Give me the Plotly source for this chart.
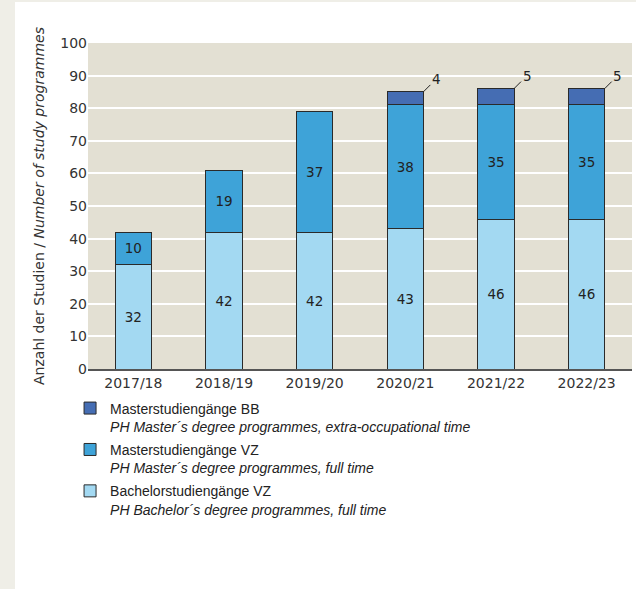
import plotly.graph_objects as go

years = ["2017/18", "2018/19", "2019/20", "2020/21", "2021/22", "2022/23"]
bachelor_vz = [32, 42, 42, 43, 46, 46]
master_vz = [10, 19, 37, 38, 35, 35]
master_bb = [0, 0, 0, 4, 5, 5]

names = [
    "Bachelorstudiengänge VZ<br><i>PH Bachelor´s degree programmes, full time</i>",
    "Masterstudiengänge VZ<br><i>PH Master´s degree programmes, full time</i>",
    "Masterstudiengänge BB<br><i>PH Master´s degree programmes, extra-occupational time</i>",
]
colors = ["#a3d9f2", "#3ea3d8", "#456db3"]

label_font = dict(family="DejaVu Sans", size=13.5, color="#222")

fig = go.Figure()
fig.add_trace(go.Bar(
    x=years, y=bachelor_vz, name=names[0], legendgroup="g1", legendrank=3,
    marker=dict(color=colors[0], line=dict(color="#2a2a2a", width=1)),
    text=[str(v) for v in bachelor_vz], textposition="inside",
    insidetextanchor="middle", textangle=0, textfont=label_font,
    width=0.4,
))
fig.add_trace(go.Bar(
    x=years, y=master_vz, name=names[1], legendgroup="g2", legendrank=2,
    marker=dict(color=colors[1], line=dict(color="#2a2a2a", width=1)),
    text=[str(v) for v in master_vz], textposition="inside",
    insidetextanchor="middle", textangle=0, textfont=label_font,
    width=0.4,
))
fig.add_trace(go.Bar(
    x=years, y=[v if v else None for v in master_bb], name=names[2],
    legendgroup="g3", legendrank=1,
    marker=dict(color=colors[2], line=dict(color="#2a2a2a", width=1)),
    width=0.4, textposition="none",
))

annotations = []
for yr, b, m, bb in zip(years, bachelor_vz, master_vz, master_bb):
    if bb:
        annotations.append(dict(
            x=yr, y=b + m + bb, xref="x", yref="y",
            text=str(bb), showarrow=True, arrowhead=0, arrowwidth=1,
            arrowcolor="#222", ax=13, ay=-13, xshift=18, standoff=0,
            font=label_font,
        ))

fig.update_layout(
    width=636, height=589,
    margin=dict(l=88, r=4, t=43, b=220),
    paper_bgcolor="white",
    plot_bgcolor="#e3e0d3",
    barmode="stack",
    bargap=0.6,
    showlegend=True,
    legend=dict(
        x=-0.033, y=-0.072, xanchor="left", yanchor="top",
        traceorder="grouped", valign="top",
        font=dict(family="Liberation Sans, Arial, sans-serif", size=14, color="#222"),
        bgcolor="rgba(0,0,0,0)",
        tracegroupgap=2,
    ),
    annotations=annotations,
    shapes=[
        dict(type="rect", xref="paper", yref="paper",
             x0=-88/544, x1=-73/544, y0=-220/326, y1=369/326,
             fillcolor="#efeee7", line=dict(width=0), layer="below"),
        dict(type="rect", xref="paper", yref="paper",
             x0=-88/544, x1=1 + 4/544, y0=(369-2)/326, y1=369/326,
             fillcolor="#efeee7", line=dict(width=0), layer="below"),
    ],
    font=dict(family="DejaVu Sans", size=14, color="#333"),
)

fig.update_xaxes(
    showline=True, linecolor="#555", linewidth=2,
    ticks="", tickfont=dict(family="DejaVu Sans", size=14, color="#333"),
    showgrid=False,
)
fig.update_yaxes(
    range=[0, 100], dtick=10, showgrid=True, gridcolor="white", gridwidth=2,
    zeroline=False, showline=False, ticks="",
    tickfont=dict(family="DejaVu Sans", size=14, color="#333"),
    title=dict(
        text="Anzahl der Studien / <i>Number of study programmes</i>",
        font=dict(family="DejaVu Sans", size=14, color="#333"),
        standoff=12,
    ),
)

fig.write_html(
    "out.html",
    config={"displayModeBar": False},
    post_script="document.body.style.margin='0';document.body.style.padding='0';",
)
